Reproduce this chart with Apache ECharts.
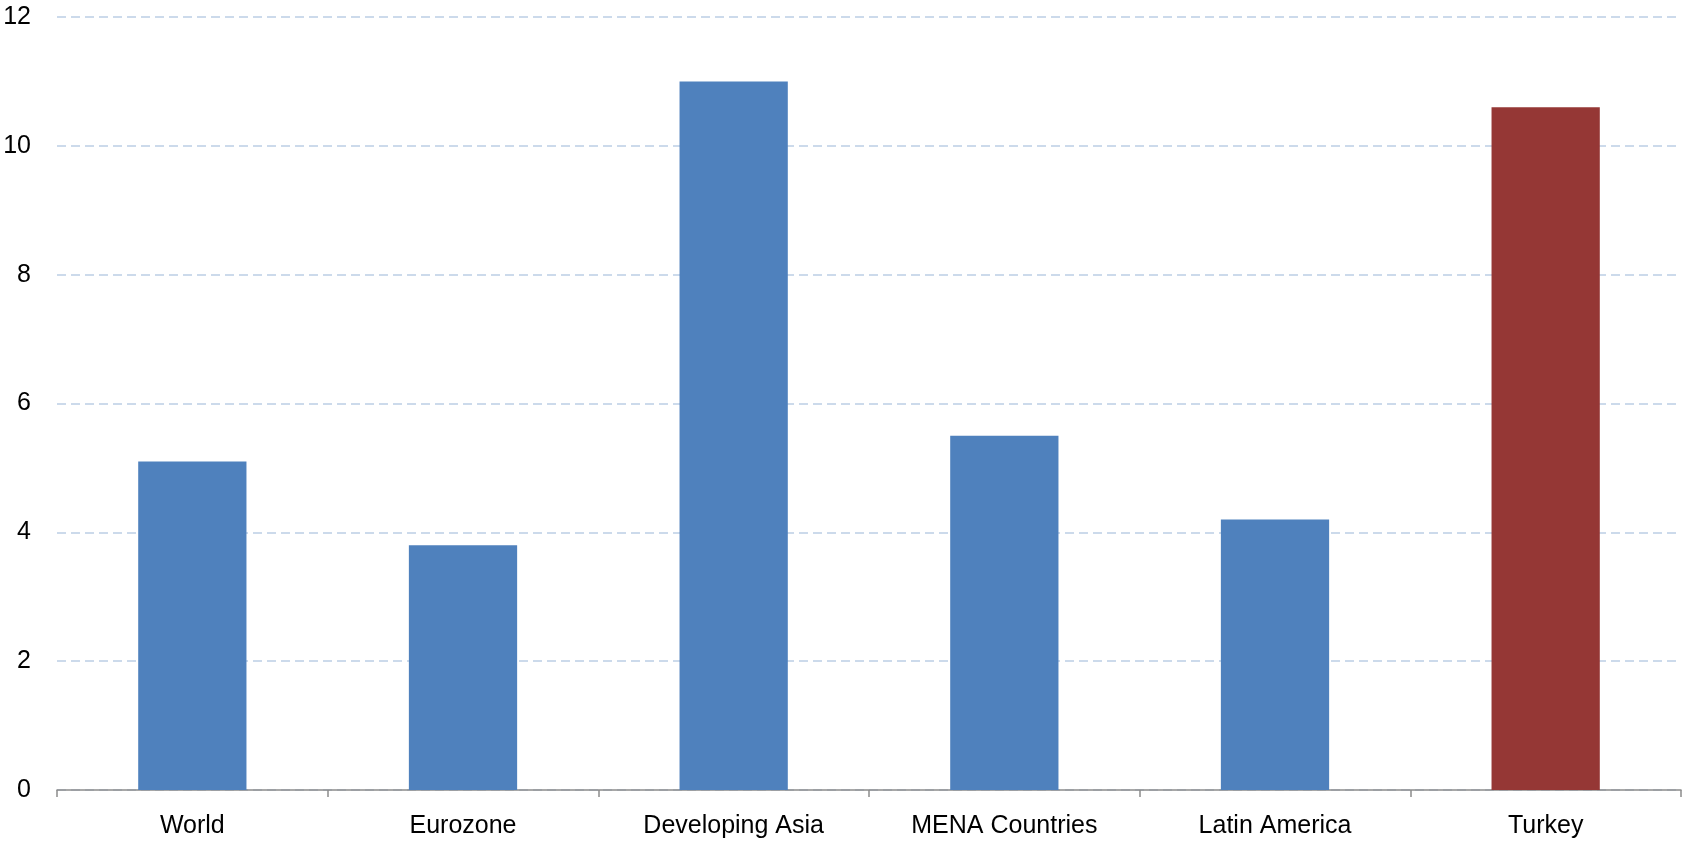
<!DOCTYPE html>
<html>
<head>
<meta charset="utf-8">
<script src="https://cdn.jsdelivr.net/npm/echarts@6/dist/echarts.min.js"></script>
<style>html,body{margin:0;padding:0;background:#fff}#c{width:1682px;height:841px}</style>
</head>
<body>
<div id="c"></div>
<script>
const categories = ["World", "Eurozone", "Developing Asia", "MENA Countries", "Latin America", "Turkey"];
const values = [5.1, 3.8, 11.0, 5.5, 4.2, 10.6];
const barColors = ["#4F81BD", "#4F81BD", "#4F81BD", "#4F81BD", "#4F81BD", "#953735"];
const yTicks = [0, 2, 4, 6, 8, 10, 12];

const chart = echarts.init(document.getElementById('c'));
chart.setOption({
  animation: false,
  grid: { left: 57, right: 1, top: 17, bottom: 51, containLabel: false },
  xAxis: {
    type: 'category',
    data: categories,
    axisLine: { lineStyle: { color: '#8C8C8C', width: 1.5 } },
    axisTick: { show: true, length: 7, lineStyle: { color: '#8C8C8C', width: 1.5 } },
    axisLabel: { color: '#000', fontFamily: 'Liberation Sans', fontSize: 25, margin: 24 }
  },
  yAxis: {
    type: 'value',
    min: yTicks[0],
    max: yTicks[yTicks.length - 1],
    interval: 2,
    axisLine: { show: false },
    axisTick: { show: false },
    axisLabel: { color: '#000', fontFamily: 'Liberation Sans', fontSize: 25, margin: 26 },
    splitLine: { lineStyle: { color: '#CCDAEB', width: 2, type: [9, 5] } }
  },
  series: [{
    type: 'bar',
    barCategoryGap: '60%',
    data: values.map((v, i) => ({ value: v, itemStyle: { color: barColors[i] } }))
  }]
});
</script>
</body>
</html>
